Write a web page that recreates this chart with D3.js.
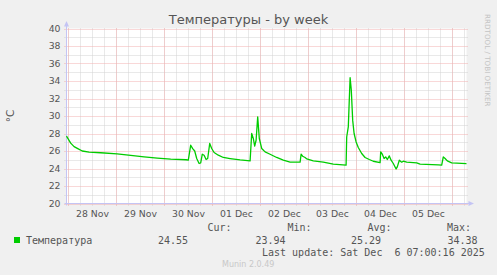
<!DOCTYPE html>
<html>
<head>
<meta charset="utf-8">
<script src="https://cdn.jsdelivr.net/npm/d3@7"></script>
<style>
  body { margin: 0; background: #f0f0f0; }
  svg { display: block; }
  text { font-family: "DejaVu Sans", sans-serif; }
  .mono { font-family: "DejaVu Sans Mono", monospace; font-size: 10px; fill: #555; }
</style>
</head>
<body>
<div id="chart"></div>
<script>
// hours since the start of the graph and the temperature at that time
var hours = [0, 2.1, 3.8, 5.4, 7.9, 11.3, 17.1, 25.3, 32.1, 38.8, 45.4, 52.1, 59.8, 60.9,
  62.1, 63.1, 64.1, 65.1, 66.3, 67.1, 67.9, 68.8, 69.8, 70.6, 71.6, 72.6, 73.8, 75.9,
  78.4, 81.8, 86.8, 91.8, 92.6, 93.4, 94.1, 94.8, 95.6, 96.4, 97.6, 99.3, 101.8, 105.1,
  108.4, 111.8, 116.8, 117.3, 118.1, 119.3, 120.1, 123.4, 128.4, 133.4, 139.8, 140.1,
  140.9, 141.8, 142.4, 143.1, 143.8, 144.8, 145.9, 147.6, 149.3, 151.4, 153.4, 156.8,
  157.1, 157.9, 158.8, 159.6, 160.4, 161.4, 162.3, 163.4, 164.8, 165.4, 166.4, 167.6,
  168.4, 170.1, 175.1, 176.8, 185.9, 187.6, 188.4, 189.3, 190.4, 192.6, 200];
var temps = [27.7, 26.9, 26.5, 26.3, 26.0, 25.86, 25.8, 25.67, 25.5, 25.33, 25.18, 25.06, 25.0, 24.95,
  26.66, 26.28, 26.0, 25.14, 24.57, 24.64, 25.63, 25.52, 25.03, 25.14, 26.86, 26.29, 25.83, 25.52,
  25.26, 25.14, 24.98, 24.87, 28.0, 27.43, 26.55, 27.23, 29.9, 27.43, 26.29, 25.9, 25.63, 25.26,
  24.95, 24.72, 24.72, 25.63, 25.4, 25.26, 25.1, 24.87, 24.72, 24.49, 24.38, 27.6,
  28.75, 34.38, 32.95, 29.5, 28.0, 27.04, 26.4, 25.71, 25.26, 25.03, 24.83, 24.68,
  25.9, 25.63, 25.14, 25.33, 25.03, 25.44, 24.95, 24.57, 23.94, 24.19, 24.95, 24.72,
  24.83, 24.72, 24.64, 24.49, 24.41, 24.38, 25.33, 25.14, 24.87, 24.64, 24.55];

var yTicks = [20, 22, 24, 26, 28, 30, 32, 34, 36, 38, 40];
var legendHead = ["Cur:", "Min:", "Avg:", "Max:"];
var legendVals = ["24.55", "23.94", "25.29", "34.38"];
var seriesName = "Температура";
var title = "Температуры - by week";
var lastUpdate = "Last update: Sat Dec  6 07:00:16 2025";

var startTime = new Date(2025, 10, 27, 23, 0, 16);
var endTime = new Date(2025, 11, 6, 7, 0, 16);

var W = 497, H = 275;
var pL = 66.5, pR = 466.5, pT = 28.5, pB = 203.5;

var svg = d3.select("#chart").append("svg")
  .attr("width", W).attr("height", H);

svg.append("rect").attr("width", W).attr("height", H).attr("fill", "#f0f0f0");
svg.append("rect").attr("x", pL).attr("y", pT)
  .attr("width", pR - pL).attr("height", pB - pT).attr("fill", "#fff");

var x = d3.scaleTime().domain([startTime, endTime]).range([pL, pR]);
var y = d3.scaleLinear().domain([20, 40]).range([pB, pT]);

// minor grid
var minorX = d3.timeHour.every(6).range(startTime, endTime);
var minorY = d3.range(21, 40, 2);
var grid = svg.append("g");
grid.selectAll(".mx").data(minorX).enter().append("line")
  .attr("x1", function(d) { return Math.round(x(d)) + 0.5; })
  .attr("x2", function(d) { return Math.round(x(d)) + 0.5; })
  .attr("y1", pT).attr("y2", pB + 2)
  .attr("stroke", "#d2d2d2").attr("stroke-dasharray", "1,1");
grid.selectAll(".my").data(minorY).enter().append("line")
  .attr("x1", pL - 2).attr("x2", pR + 2)
  .attr("y1", function(d) { return Math.round(y(d)) + 0.5; })
  .attr("y2", function(d) { return Math.round(y(d)) + 0.5; })
  .attr("stroke", "#d2d2d2").attr("stroke-dasharray", "1,1");

// major grid
var days = d3.timeDay.range(startTime, endTime);
grid.selectAll(".Mx").data(days).enter().append("line")
  .attr("x1", function(d) { return Math.round(x(d)) + 0.5; })
  .attr("x2", function(d) { return Math.round(x(d)) + 0.5; })
  .attr("y1", pT).attr("y2", pB + 2)
  .attr("stroke", "#f2b0b0").attr("stroke-dasharray", "1,1");
grid.selectAll(".My").data(yTicks).enter().append("line")
  .attr("x1", pL - 2).attr("x2", pR + 2)
  .attr("y1", function(d) { return Math.round(y(d)) + 0.5; })
  .attr("y2", function(d) { return Math.round(y(d)) + 0.5; })
  .attr("stroke", "#f2b0b0").attr("stroke-dasharray", "1,1");

// axes
var axisCol = "#c4c4f4";
svg.append("line").attr("x1", pL).attr("x2", pL).attr("y1", pB + 2).attr("y2", pT - 5)
  .attr("stroke", axisCol);
svg.append("line").attr("x1", pL - 2).attr("x2", pR + 4).attr("y1", pB).attr("y2", pB)
  .attr("stroke", axisCol);
svg.append("path").attr("d", "M" + (pL - 2.5) + "," + (pT - 2) + "L" + pL + "," + (pT - 7.5) + "L" + (pL + 2.5) + "," + (pT - 2) + "Z")
  .attr("fill", axisCol);
svg.append("path").attr("d", "M" + (pR + 2) + "," + (pB - 2.5) + "L" + (pR + 7.5) + "," + pB + "L" + (pR + 2) + "," + (pB + 2.5) + "Z")
  .attr("fill", axisCol);

// tick labels
svg.append("g").selectAll("text").data(yTicks).enter().append("text")
  .attr("x", 60.5).attr("y", function(d) { return y(d) + 3.4; })
  .attr("text-anchor", "end").attr("font-size", 9.3).attr("fill", "#555")
  .text(function(d) { return d; });

var fmt = d3.timeFormat("%d %b");
svg.append("g").selectAll("text").data(days.slice(0, 8)).enter().append("text")
  .attr("x", function(d) { return x(d3.timeHour.offset(d, 12)); }).attr("y", 216.5)
  .attr("text-anchor", "middle").attr("font-size", 9.3).attr("fill", "#555")
  .text(function(d) { return fmt(d); });

// series
var pts = hours.map(function(h, i) { return [new Date(+startTime + h * 3600e3), temps[i]]; });
var line = d3.line()
  .x(function(d) { return x(d[0]); })
  .y(function(d) { return y(d[1]); });
svg.append("path").datum(pts).attr("d", line)
  .attr("fill", "none").attr("stroke", "#00cc00").attr("stroke-width", 1.3)
  .attr("stroke-linejoin", "round");

// title and labels
svg.append("text").attr("x", 248.5).attr("y", 24).attr("text-anchor", "middle")
  .attr("font-size", 13).attr("fill", "#555").text(title);
svg.append("text").attr("transform", "translate(14," + ((pT + pB) / 2) + ") rotate(-90)")
  .attr("text-anchor", "middle").attr("font-size", 10.5).attr("fill", "#555").text("°C");
svg.append("text").attr("transform", "translate(484.5,14) rotate(90)")
  .attr("font-size", 7.2).attr("fill", "#c4c4c4").text("RRDTOOL / TOBI OETIKER");

// legend
var headX = [207.5, 287.5, 367.5, 447];
svg.append("g").selectAll("text").data(legendHead).enter().append("text")
  .attr("class", "mono").attr("x", function(d, i) { return headX[i]; }).attr("y", 231)
  .text(function(d) { return d; });
svg.append("rect").attr("x", 14).attr("y", 237).attr("width", 6).attr("height", 6).attr("fill", "#00cc00");
svg.append("text").attr("class", "mono").attr("x", 26).attr("y", 243.5).text(seriesName);
var valX = [158, 255.5, 351, 447.5];
svg.append("g").selectAll("text").data(legendVals).enter().append("text")
  .attr("class", "mono").attr("x", function(d, i) { return valX[i]; }).attr("y", 243.5)
  .text(function(d) { return d; });
svg.append("text").attr("class", "mono").attr("x", 262).attr("y", 255.5)
  .style("white-space", "pre").text(lastUpdate);
svg.append("text").attr("x", 222).attr("y", 266.5).attr("font-size", 8).attr("fill", "#c8c8c8")
  .text("Munin 2.0.49");
</script>
</body>
</html>
